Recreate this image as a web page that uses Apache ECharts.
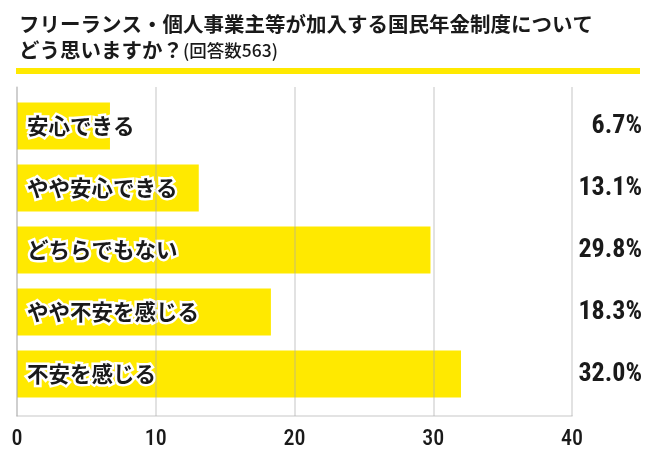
<!DOCTYPE html>
<html>
<head>
<meta charset="utf-8">
<script src="https://cdn.jsdelivr.net/npm/echarts@6/dist/echarts.min.js"></script>
<style>
  html, body { margin: 0; padding: 0; background: #fff; }
  #chart { width: 655px; height: 467px; }
</style>
</head>
<body>
<div id="chart"></div>
<script>
// 回答カテゴリと割合（%）
const categories = ['安心できる', 'やや安心できる', 'どちらでもない', 'やや不安を感じる', '不安を感じる'];
const shares = [6.7, 13.1, 29.8, 18.3, 32.0];
const xTicks = [0, 10, 20, 30, 40];

const titleMain = 'フリーランス・個人事業主等が加入する国民年金制度について';
const titleSub = 'どう思いますか？';
const titleNote = '(回答数563)';

const YELLOW = '#ffe900';
const GRIDLINE = 'rgba(170,170,170,0.45)';
const JP = '"Noto Sans CJK JP", sans-serif';
const NUM = '"Roboto", "Open Sans", "Noto Sans", sans-serif';

const myChart = echarts.init(document.getElementById('chart'));

const option = {
    animation: false,
    backgroundColor: '#fff',
    title: {
        left: 14,
        top: 6,
        text: `{a|${titleMain}}\n{a|${titleSub}}{b|${titleNote}}`,
        textStyle: {
            rich: {
                a: { fontFamily: JP, fontSize: 20.5, fontWeight: 'bold', color: '#1a1a1a', lineHeight: 26 },
                b: { fontFamily: JP, fontSize: 17.5, fontWeight: 500, color: '#1a1a1a', lineHeight: 26 }
            }
        }
    },
    graphic: [{
        type: 'rect',
        shape: { x: 16, y: 68, width: 624, height: 6 },
        style: { fill: YELLOW }
    }],
    grid: [
        // 枠とメモリ用
        { left: 17, right: 83, top: 87, bottom: 51 },
        // 棒グラフ用
        { left: 17, right: 83, top: 95, bottom: 62 }
    ],
    xAxis: [{
        gridIndex: 0,
        type: 'value',
        min: xTicks[0],
        max: xTicks[xTicks.length - 1],
        interval: 10,
        z: 5,
        axisLine: { show: true, lineStyle: { color: GRIDLINE, width: 1.5 } },
        axisTick: { show: false },
        splitLine: { lineStyle: { color: GRIDLINE, width: 1.5 } },
        axisLabel: {
            margin: 12,
            fontFamily: NUM,
            fontStyle: 'condensed',
            fontWeight: 500,
            fontSize: 22,
            color: '#1a1a1a'
        }
    }, {
        gridIndex: 1,
        type: 'value',
        min: xTicks[0],
        max: xTicks[xTicks.length - 1],
        show: false
    }],
    yAxis: [{
        gridIndex: 0,
        type: 'category',
        data: [''],
        z: 5,
        axisLine: { show: true, lineStyle: { color: GRIDLINE, width: 1.5 } },
        axisTick: { show: false },
        axisLabel: { show: false }
    }, {
        gridIndex: 1,
        type: 'category',
        data: categories,
        inverse: true,
        axisLine: { show: false },
        axisTick: { show: false },
        axisLabel: { show: false }
    }, {
        gridIndex: 1,
        type: 'category',
        position: 'right',
        data: categories,
        inverse: true,
        axisLine: { show: false },
        axisTick: { show: false },
        axisLabel: {
            margin: 70,
            align: 'right',
            fontFamily: NUM,
            fontStyle: 'condensed',
            fontWeight: 'bold',
            fontSize: 26,
            color: '#1a1a1a',
            formatter: (v, i) => shares[i].toFixed(1) + '%'
        }
    }],
    series: [{
        type: 'bar',
        xAxisIndex: 1,
        yAxisIndex: 1,
        data: shares,
        barWidth: '76%',
        itemStyle: { color: YELLOW },
        label: {
            show: true,
            position: 'insideLeft',
            distance: 10,
            formatter: (p) => categories[p.dataIndex],
            fontFamily: JP,
            fontWeight: 'bold',
            fontSize: 21.5,
            color: '#1a1a1a',
            textBorderColor: '#fff',
            textBorderWidth: 5
        }
    }]
};

myChart.setOption(option);
</script>
</body>
</html>
